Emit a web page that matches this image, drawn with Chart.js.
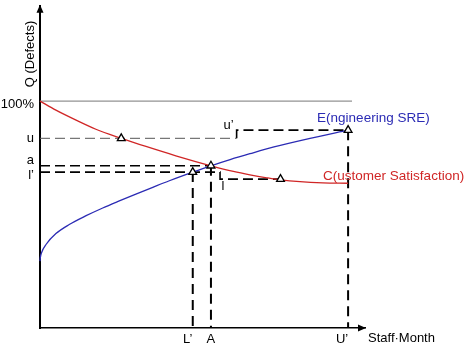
<!DOCTYPE html>
<html><head><meta charset="utf-8">
<script src="https://cdn.jsdelivr.net/npm/chart.js@4"></script>
<style>html,body{margin:0;padding:0;background:#fff}#wrap{width:468px;height:349px;position:relative}</style>
</head><body><div id="wrap"><canvas id="c"></canvas></div>
<script>
// ---- data ----
const engX = [0, 0.1, 0.5, 1.85, 4.9, 9.0, 14.2, 19.3, 24.4, 29.5, 34.7, 39.8, 47.0, 52.6, 58.5, 64.6, 72.0, 83.1, 94.8];
const engY = [29.5, 31.0, 33.3, 36.8, 41.6, 45.6, 49.5, 52.9, 56.0, 59.0, 62.0, 64.9, 68.7, 71.5, 74.2, 76.8, 79.8, 83.6, 87.2];
const custX = [0, 4.9, 11.1, 17.2, 25.0, 32.6, 41.8, 52.6, 59.5, 64.6, 69.8, 74.0, 80.0, 87.0, 94.8];
const custY = [100, 96.0, 91.6, 87.6, 83.6, 80.0, 75.9, 71.5, 69.0, 67.5, 66.2, 65.3, 64.5, 64.0, 63.8];
const levelLabels = ['100%', 'u', 'a', 'l’'];
const levelValues = [100, 83.6, 71.5, 68.7];
const xMarkLabels = ['L’', 'A', 'U’'];
const xMarkValues = [47.0, 52.6, 94.8];
const stepLabels = ['u’', 'l'];
const stepLevels = [87.2, 65.6];
const stepX = [60.5, 55.4];
const uPointX = 25.0;
const lPointX = 74.0;
const ceilingEndX = 96.0;
const seriesNames = ['E(ngineering SRE)', 'C(ustomer Satisfaction)'];
const axisTitles = ['Staff·Month', 'Q (Defects)'];
const xMax = 100, yMax = 142;

// ---- derived ----
const pts = (xs, ys) => xs.map((v, i) => ({x: v, y: ys[i]}));
const [L, A, U] = xMarkValues;
const [lvl100, lvlU, lvlA, lvlL] = levelValues;
const [lvlUp, lvlLow] = stepLevels;
const BLUE = '#2b2bb4', RED = '#d02626';
const seg = (data, opts) => Object.assign({data, showLine: true, pointRadius: 0, borderWidth: 1.6,
  borderColor: '#000', borderDash: [10, 5], tension: 0, clip: false, order: 2}, opts);

const datasets = [
  {data: pts([uPointX, L, A, lPointX, U], [lvlU, lvlL, lvlA, lvlLow, lvlUp]), showLine: false,
   pointStyle: 'triangle', pointRadius: 4.5, pointBackgroundColor: '#fff', pointBorderColor: '#000',
   pointBorderWidth: 1.3, clip: false, order: 0},
  {data: pts(engX, engY), showLine: true, pointRadius: 0, borderColor: BLUE, borderWidth: 1.3,
   cubicInterpolationMode: 'monotone', clip: false, order: 1},
  {data: pts(custX, custY), showLine: true, pointRadius: 0, borderColor: RED, borderWidth: 1.3,
   cubicInterpolationMode: 'monotone', clip: false, order: 1},
  seg(pts([0, ceilingEndX], [lvl100, lvl100]), {borderDash: [], borderColor: '#777', borderWidth: 1}),
  seg(pts([0, stepX[0]], [lvlU, lvlU]), {borderColor: '#555', borderWidth: 1}),
  seg(pts([stepX[0], stepX[0], U], [lvlU, lvlUp, lvlUp])),
  seg(pts([0, A], [lvlA, lvlA])),
  seg(pts([0, stepX[1], stepX[1], lPointX], [lvlL, lvlL, lvlLow, lvlLow])),
  seg(pts([L, L], [lvlL, 0]), {borderWidth: 2, borderDash: [10, 6]}),
  seg(pts([A, A], [lvlA, 0]), {borderWidth: 2, borderDash: [10, 6]}),
  seg(pts([U, U], [lvlUp, 0]), {borderWidth: 2, borderDash: [10, 6]}),
];

const FONT = '"Liberation Sans", Arial, sans-serif';
const overlay = {
  id: 'overlay',
  afterDraw(chart) {
    const {ctx, scales: {x, y}} = chart;
    const px = v => x.getPixelForValue(v), py = v => y.getPixelForValue(v);
    const x0 = px(0), y0 = py(0), xEnd = px(x.max), yTop = py(y.max);
    ctx.save();
    ctx.fillStyle = '#000';
    ctx.beginPath(); ctx.moveTo(x0, yTop - 1); ctx.lineTo(x0 - 3.5, yTop + 7); ctx.lineTo(x0 + 3.5, yTop + 7); ctx.closePath(); ctx.fill();
    ctx.beginPath(); ctx.moveTo(xEnd + 1, y0); ctx.lineTo(xEnd - 7, y0 - 3.5); ctx.lineTo(xEnd - 7, y0 + 3.5); ctx.closePath(); ctx.fill();

    ctx.font = '13px ' + FONT;
    ctx.textBaseline = 'middle';
    const yOff = [3, 0, -5, 3.5];
    ctx.textAlign = 'right';
    levelLabels.forEach((t, i) => ctx.fillText(t, x0 - 6, py(levelValues[i]) + yOff[i]));
    const xOff = [-5, 0, -6];
    ctx.textAlign = 'center';
    xMarkLabels.forEach((t, i) => ctx.fillText(t, px(xMarkValues[i]) + xOff[i], y0 + 11.5));
    ctx.fillText(stepLabels[0], px(stepX[0]) - 8, py(stepLevels[0]) - 4.5);
    ctx.fillText(stepLabels[1], px(stepX[1]) + 3, py(stepLevels[1]) + 7);
    ctx.textAlign = 'left';
    ctx.fillText(axisTitles[0], xEnd + 3, y0 + 10);
    ctx.save();
    ctx.translate(x0 - 10, 54);
    ctx.rotate(-Math.PI / 2);
    ctx.textAlign = 'center';
    ctx.fillText(axisTitles[1], 0, 0);
    ctx.restore();
    ctx.font = '13.5px ' + FONT;
    ctx.fillStyle = BLUE;
    ctx.fillText(seriesNames[0], px(U) - 31, py(lvlUp) - 12);
    ctx.fillStyle = RED;
    ctx.fillText(seriesNames[1], px(U) - 25, py(custY[custY.length - 1]) - 7);
    ctx.restore();
  }
};

new Chart(document.getElementById('c'), {
  type: 'scatter',
  data: {datasets},
  options: {
    responsive: true, maintainAspectRatio: false, animation: false, devicePixelRatio: 1,
    layout: {padding: {top: 1, right: 103, left: 0, bottom: 0}},
    plugins: {legend: {display: false}, tooltip: {enabled: false}},
    scales: {
      x: {type: 'linear', min: 0, max: xMax, grid: {display: false}, ticks: {display: false},
          border: {display: true, color: '#000', width: 1.5},
          afterFit: s => { s.height = 21; }},
      y: {type: 'linear', min: 0, max: yMax, grid: {display: false}, ticks: {display: false},
          border: {display: true, color: '#000', width: 2},
          afterFit: s => { s.width = 40; }}
    }
  },
  plugins: [overlay]
});
</script></body></html>
